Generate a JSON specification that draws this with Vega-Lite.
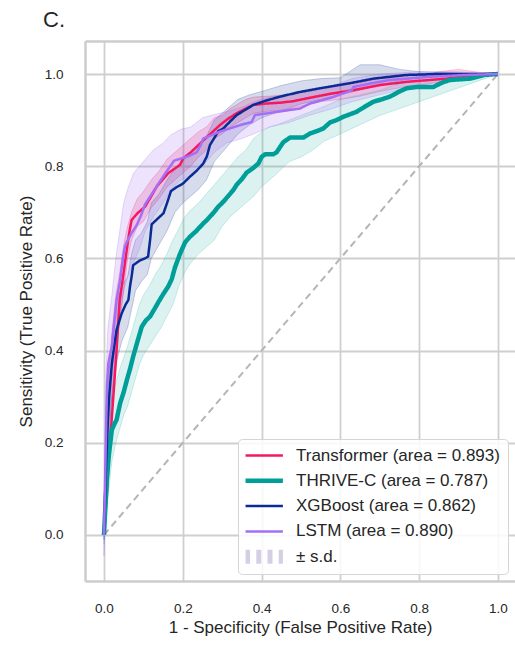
{
"$schema": "https://vega.github.io/schema/vega-lite/v6.json",
"width": 430, "height": 540,
"autosize": {"type": "none"},
"padding": {"left": 85, "top": 41, "right": 0, "bottom": 65},
"background": "white",
"title": {"text": "C.", "anchor": "start", "frame": "group", "dx": -42, "offset": -8, "fontSize": 22, "font": "Liberation Sans", "fontWeight": "normal", "color": "#262626", "baseline": "alphabetic"},
"config": {
  "view": {"stroke": null},
  "font": "Liberation Sans",
  "axis": {"domain": true, "domainColor": "#cccccc", "domainWidth": 2.5, "ticks": false, "grid": true, "gridColor": "#cfcfcf", "gridWidth": 1.8, "labelFont": "Liberation Sans", "labelFontSize": 13.5, "labelColor": "#262626", "titleFont": "Liberation Sans", "titleFontSize": 17, "titleFontWeight": "normal", "titleColor": "#262626"}
},
"resolve": {"axis": {"x": "independent"}},
"datasets": {
"diag": [{"x": 0, "y": 0}, {"x": 1, "y": 1}],
"bands": [
{"model":"T","x":0,"lo":0,"hi":0.02},{"model":"T","x":0.01,"lo":0.17,"hi":0.32},{"model":"T","x":0.02,"lo":0.3,"hi":0.44},{"model":"T","x":0.03,"lo":0.4,"hi":0.52},{"model":"T","x":0.04,"lo":0.46,"hi":0.57},{"model":"T","x":0.05,"lo":0.53,"hi":0.63},{"model":"T","x":0.06,"lo":0.6,"hi":0.67},{"model":"T","x":0.07,"lo":0.64,"hi":0.7},{"model":"T","x":0.085,"lo":0.67,"hi":0.73},{"model":"T","x":0.1,"lo":0.68,"hi":0.745},{"model":"T","x":0.12,"lo":0.71,"hi":0.77},{"model":"T","x":0.14,"lo":0.73,"hi":0.79},{"model":"T","x":0.16,"lo":0.755,"hi":0.815},{"model":"T","x":0.18,"lo":0.77,"hi":0.83},{"model":"T","x":0.2,"lo":0.785,"hi":0.845},{"model":"T","x":0.22,"lo":0.8,"hi":0.86},{"model":"T","x":0.24,"lo":0.82,"hi":0.875},{"model":"T","x":0.26,"lo":0.835,"hi":0.885},{"model":"T","x":0.28,"lo":0.86,"hi":0.905},{"model":"T","x":0.3,"lo":0.87,"hi":0.91},{"model":"T","x":0.32,"lo":0.885,"hi":0.925},{"model":"T","x":0.34,"lo":0.895,"hi":0.935},{"model":"T","x":0.36,"lo":0.905,"hi":0.945},{"model":"T","x":0.38,"lo":0.915,"hi":0.95},{"model":"T","x":0.42,"lo":0.92,"hi":0.952},{"model":"T","x":0.46,"lo":0.922,"hi":0.955},{"model":"T","x":0.5,"lo":0.93,"hi":0.96},{"model":"T","x":0.55,"lo":0.94,"hi":0.97},{"model":"T","x":0.6,"lo":0.945,"hi":0.978},{"model":"T","x":0.65,"lo":0.952,"hi":0.982},{"model":"T","x":0.7,"lo":0.962,"hi":0.99},{"model":"T","x":0.75,"lo":0.97,"hi":0.995},{"model":"T","x":0.8,"lo":0.976,"hi":0.998},{"model":"T","x":0.85,"lo":0.982,"hi":1.005},{"model":"T","x":0.9,"lo":0.988,"hi":1.01},{"model":"T","x":0.95,"lo":0.995,"hi":1.004},{"model":"T","x":1,"lo":1,"hi":1},
{"model":"C","x":0,"lo":-0.02,"hi":0.03},{"model":"C","x":0.01,"lo":0.08,"hi":0.25},{"model":"C","x":0.02,"lo":0.16,"hi":0.3},{"model":"C","x":0.03,"lo":0.2,"hi":0.33},{"model":"C","x":0.04,"lo":0.23,"hi":0.36},{"model":"C","x":0.05,"lo":0.26,"hi":0.385},{"model":"C","x":0.06,"lo":0.28,"hi":0.41},{"model":"C","x":0.07,"lo":0.31,"hi":0.44},{"model":"C","x":0.08,"lo":0.34,"hi":0.47},{"model":"C","x":0.09,"lo":0.37,"hi":0.5},{"model":"C","x":0.1,"lo":0.39,"hi":0.52},{"model":"C","x":0.115,"lo":0.41,"hi":0.54},{"model":"C","x":0.13,"lo":0.43,"hi":0.565},{"model":"C","x":0.145,"lo":0.45,"hi":0.585},{"model":"C","x":0.16,"lo":0.475,"hi":0.61},{"model":"C","x":0.175,"lo":0.5,"hi":0.64},{"model":"C","x":0.19,"lo":0.54,"hi":0.665},{"model":"C","x":0.205,"lo":0.57,"hi":0.69},{"model":"C","x":0.22,"lo":0.59,"hi":0.705},{"model":"C","x":0.24,"lo":0.61,"hi":0.72},{"model":"C","x":0.26,"lo":0.625,"hi":0.74},{"model":"C","x":0.28,"lo":0.64,"hi":0.76},{"model":"C","x":0.3,"lo":0.67,"hi":0.78},{"model":"C","x":0.32,"lo":0.69,"hi":0.8},{"model":"C","x":0.34,"lo":0.705,"hi":0.82},{"model":"C","x":0.36,"lo":0.72,"hi":0.835},{"model":"C","x":0.38,"lo":0.735,"hi":0.86},{"model":"C","x":0.4,"lo":0.755,"hi":0.875},{"model":"C","x":0.42,"lo":0.77,"hi":0.885},{"model":"C","x":0.44,"lo":0.785,"hi":0.89},{"model":"C","x":0.47,"lo":0.81,"hi":0.9},{"model":"C","x":0.5,"lo":0.82,"hi":0.91},{"model":"C","x":0.53,"lo":0.835,"hi":0.92},{"model":"C","x":0.56,"lo":0.855,"hi":0.93},{"model":"C","x":0.6,"lo":0.87,"hi":0.945},{"model":"C","x":0.65,"lo":0.89,"hi":0.955},{"model":"C","x":0.7,"lo":0.91,"hi":0.965},{"model":"C","x":0.75,"lo":0.925,"hi":0.98},{"model":"C","x":0.8,"lo":0.94,"hi":0.99},{"model":"C","x":0.85,"lo":0.955,"hi":0.995},{"model":"C","x":0.9,"lo":0.97,"hi":1.0},{"model":"C","x":0.95,"lo":0.985,"hi":1.0},{"model":"C","x":1,"lo":1,"hi":1},
{"model":"X","x":0,"lo":-0.01,"hi":0.02},{"model":"X","x":0.005,"lo":0.08,"hi":0.22},{"model":"X","x":0.01,"lo":0.18,"hi":0.32},{"model":"X","x":0.02,"lo":0.3,"hi":0.43},{"model":"X","x":0.03,"lo":0.37,"hi":0.5},{"model":"X","x":0.045,"lo":0.42,"hi":0.54},{"model":"X","x":0.06,"lo":0.45,"hi":0.56},{"model":"X","x":0.07,"lo":0.49,"hi":0.61},{"model":"X","x":0.08,"lo":0.53,"hi":0.64},{"model":"X","x":0.095,"lo":0.55,"hi":0.655},{"model":"X","x":0.11,"lo":0.565,"hi":0.68},{"model":"X","x":0.12,"lo":0.6,"hi":0.72},{"model":"X","x":0.14,"lo":0.63,"hi":0.74},{"model":"X","x":0.16,"lo":0.66,"hi":0.77},{"model":"X","x":0.18,"lo":0.7,"hi":0.795},{"model":"X","x":0.2,"lo":0.72,"hi":0.81},{"model":"X","x":0.22,"lo":0.735,"hi":0.83},{"model":"X","x":0.24,"lo":0.75,"hi":0.845},{"model":"X","x":0.26,"lo":0.77,"hi":0.865},{"model":"X","x":0.28,"lo":0.81,"hi":0.9},{"model":"X","x":0.3,"lo":0.83,"hi":0.915},{"model":"X","x":0.32,"lo":0.85,"hi":0.93},{"model":"X","x":0.34,"lo":0.87,"hi":0.945},{"model":"X","x":0.37,"lo":0.89,"hi":0.955},{"model":"X","x":0.4,"lo":0.905,"hi":0.962},{"model":"X","x":0.45,"lo":0.92,"hi":0.975},{"model":"X","x":0.5,"lo":0.935,"hi":0.985},{"model":"X","x":0.55,"lo":0.945,"hi":0.99},{"model":"X","x":0.6,"lo":0.955,"hi":0.992},{"model":"X","x":0.65,"lo":0.965,"hi":1.02},{"model":"X","x":0.7,"lo":0.975,"hi":1.02},{"model":"X","x":0.75,"lo":0.985,"hi":1.01},{"model":"X","x":0.8,"lo":0.992,"hi":1.005},{"model":"X","x":0.9,"lo":0.998,"hi":1.002},{"model":"X","x":1,"lo":1,"hi":1},
{"model":"L","x":0,"lo":-0.045,"hi":0.05},{"model":"L","x":0.005,"lo":0.1,"hi":0.35},{"model":"L","x":0.01,"lo":0.22,"hi":0.45},{"model":"L","x":0.02,"lo":0.33,"hi":0.52},{"model":"L","x":0.03,"lo":0.42,"hi":0.6},{"model":"L","x":0.04,"lo":0.48,"hi":0.66},{"model":"L","x":0.05,"lo":0.53,"hi":0.72},{"model":"L","x":0.06,"lo":0.56,"hi":0.75},{"model":"L","x":0.075,"lo":0.59,"hi":0.785},{"model":"L","x":0.09,"lo":0.62,"hi":0.8},{"model":"L","x":0.105,"lo":0.66,"hi":0.815},{"model":"L","x":0.125,"lo":0.69,"hi":0.835},{"model":"L","x":0.15,"lo":0.72,"hi":0.85},{"model":"L","x":0.17,"lo":0.75,"hi":0.868},{"model":"L","x":0.195,"lo":0.77,"hi":0.88},{"model":"L","x":0.22,"lo":0.78,"hi":0.885},{"model":"L","x":0.25,"lo":0.8,"hi":0.905},{"model":"L","x":0.28,"lo":0.83,"hi":0.912},{"model":"L","x":0.31,"lo":0.85,"hi":0.918},{"model":"L","x":0.35,"lo":0.86,"hi":0.928},{"model":"L","x":0.38,"lo":0.87,"hi":0.94},{"model":"L","x":0.42,"lo":0.885,"hi":0.95},{"model":"L","x":0.47,"lo":0.895,"hi":0.955},{"model":"L","x":0.52,"lo":0.91,"hi":0.962},{"model":"L","x":0.58,"lo":0.925,"hi":0.975},{"model":"L","x":0.63,"lo":0.94,"hi":0.99},{"model":"L","x":0.7,"lo":0.955,"hi":1.0},{"model":"L","x":0.8,"lo":0.975,"hi":1.005},{"model":"L","x":0.9,"lo":0.99,"hi":1.005},{"model":"L","x":1,"lo":1,"hi":1}
],
"lines": [
{"model":"T","x":0,"y":0},{"model":"T","x":0.004,"y":0.05},{"model":"T","x":0.008,"y":0.1},{"model":"T","x":0.012,"y":0.16},{"model":"T","x":0.017,"y":0.22},{"model":"T","x":0.022,"y":0.28},{"model":"T","x":0.027,"y":0.34},{"model":"T","x":0.032,"y":0.4},{"model":"T","x":0.036,"y":0.46},{"model":"T","x":0.04,"y":0.51},{"model":"T","x":0.045,"y":0.54},{"model":"T","x":0.05,"y":0.57},{"model":"T","x":0.058,"y":0.62},{"model":"T","x":0.064,"y":0.655},{"model":"T","x":0.07,"y":0.683},{"model":"T","x":0.085,"y":0.698},{"model":"T","x":0.104,"y":0.712},{"model":"T","x":0.12,"y":0.735},{"model":"T","x":0.134,"y":0.756},{"model":"T","x":0.15,"y":0.772},{"model":"T","x":0.163,"y":0.785},{"model":"T","x":0.18,"y":0.795},{"model":"T","x":0.193,"y":0.803},{"model":"T","x":0.201,"y":0.817},{"model":"T","x":0.22,"y":0.83},{"model":"T","x":0.235,"y":0.842},{"model":"T","x":0.252,"y":0.856},{"model":"T","x":0.27,"y":0.87},{"model":"T","x":0.294,"y":0.889},{"model":"T","x":0.315,"y":0.903},{"model":"T","x":0.337,"y":0.915},{"model":"T","x":0.36,"y":0.925},{"model":"T","x":0.379,"y":0.933},{"model":"T","x":0.413,"y":0.936},{"model":"T","x":0.45,"y":0.938},{"model":"T","x":0.48,"y":0.941},{"model":"T","x":0.52,"y":0.948},{"model":"T","x":0.574,"y":0.957},{"model":"T","x":0.633,"y":0.965},{"model":"T","x":0.7,"y":0.976},{"model":"T","x":0.768,"y":0.983},{"model":"T","x":0.87,"y":0.99},{"model":"T","x":0.946,"y":0.998},{"model":"T","x":1,"y":1},
{"model":"C","x":0,"y":0},{"model":"C","x":0.004,"y":0.07},{"model":"C","x":0.008,"y":0.13},{"model":"C","x":0.013,"y":0.178},{"model":"C","x":0.02,"y":0.228},{"model":"C","x":0.026,"y":0.24},{"model":"C","x":0.032,"y":0.25},{"model":"C","x":0.041,"y":0.286},{"model":"C","x":0.05,"y":0.31},{"model":"C","x":0.058,"y":0.336},{"model":"C","x":0.066,"y":0.36},{"model":"C","x":0.074,"y":0.387},{"model":"C","x":0.085,"y":0.42},{"model":"C","x":0.096,"y":0.452},{"model":"C","x":0.106,"y":0.465},{"model":"C","x":0.117,"y":0.474},{"model":"C","x":0.128,"y":0.49},{"model":"C","x":0.138,"y":0.505},{"model":"C","x":0.15,"y":0.522},{"model":"C","x":0.163,"y":0.539},{"model":"C","x":0.172,"y":0.555},{"model":"C","x":0.18,"y":0.58},{"model":"C","x":0.193,"y":0.61},{"model":"C","x":0.206,"y":0.635},{"model":"C","x":0.218,"y":0.647},{"model":"C","x":0.235,"y":0.66},{"model":"C","x":0.252,"y":0.676},{"model":"C","x":0.261,"y":0.683},{"model":"C","x":0.277,"y":0.698},{"model":"C","x":0.29,"y":0.712},{"model":"C","x":0.303,"y":0.723},{"model":"C","x":0.315,"y":0.735},{"model":"C","x":0.328,"y":0.748},{"model":"C","x":0.337,"y":0.76},{"model":"C","x":0.35,"y":0.772},{"model":"C","x":0.362,"y":0.786},{"model":"C","x":0.38,"y":0.797},{"model":"C","x":0.392,"y":0.806},{"model":"C","x":0.4,"y":0.82},{"model":"C","x":0.409,"y":0.826},{"model":"C","x":0.43,"y":0.826},{"model":"C","x":0.438,"y":0.83},{"model":"C","x":0.455,"y":0.852},{"model":"C","x":0.472,"y":0.862},{"model":"C","x":0.506,"y":0.862},{"model":"C","x":0.523,"y":0.871},{"model":"C","x":0.54,"y":0.876},{"model":"C","x":0.557,"y":0.882},{"model":"C","x":0.574,"y":0.895},{"model":"C","x":0.59,"y":0.9},{"model":"C","x":0.607,"y":0.907},{"model":"C","x":0.641,"y":0.918},{"model":"C","x":0.66,"y":0.928},{"model":"C","x":0.684,"y":0.94},{"model":"C","x":0.705,"y":0.945},{"model":"C","x":0.726,"y":0.951},{"model":"C","x":0.75,"y":0.962},{"model":"C","x":0.768,"y":0.969},{"model":"C","x":0.794,"y":0.972},{"model":"C","x":0.836,"y":0.972},{"model":"C","x":0.86,"y":0.982},{"model":"C","x":0.878,"y":0.987},{"model":"C","x":0.929,"y":0.99},{"model":"C","x":0.965,"y":0.998},{"model":"C","x":1,"y":1},
{"model":"X","x":0,"y":0},{"model":"X","x":0.002,"y":0.06},{"model":"X","x":0.004,"y":0.12},{"model":"X","x":0.007,"y":0.19},{"model":"X","x":0.01,"y":0.25},{"model":"X","x":0.013,"y":0.3},{"model":"X","x":0.017,"y":0.34},{"model":"X","x":0.02,"y":0.372},{"model":"X","x":0.026,"y":0.41},{"model":"X","x":0.032,"y":0.445},{"model":"X","x":0.045,"y":0.481},{"model":"X","x":0.055,"y":0.5},{"model":"X","x":0.062,"y":0.51},{"model":"X","x":0.066,"y":0.539},{"model":"X","x":0.07,"y":0.56},{"model":"X","x":0.074,"y":0.585},{"model":"X","x":0.09,"y":0.595},{"model":"X","x":0.104,"y":0.6},{"model":"X","x":0.112,"y":0.604},{"model":"X","x":0.117,"y":0.64},{"model":"X","x":0.121,"y":0.674},{"model":"X","x":0.136,"y":0.686},{"model":"X","x":0.151,"y":0.698},{"model":"X","x":0.16,"y":0.72},{"model":"X","x":0.17,"y":0.746},{"model":"X","x":0.185,"y":0.755},{"model":"X","x":0.2,"y":0.762},{"model":"X","x":0.218,"y":0.777},{"model":"X","x":0.235,"y":0.79},{"model":"X","x":0.252,"y":0.806},{"model":"X","x":0.261,"y":0.821},{"model":"X","x":0.269,"y":0.846},{"model":"X","x":0.282,"y":0.864},{"model":"X","x":0.29,"y":0.876},{"model":"X","x":0.303,"y":0.882},{"model":"X","x":0.32,"y":0.897},{"model":"X","x":0.337,"y":0.911},{"model":"X","x":0.36,"y":0.923},{"model":"X","x":0.379,"y":0.933},{"model":"X","x":0.41,"y":0.942},{"model":"X","x":0.447,"y":0.951},{"model":"X","x":0.497,"y":0.961},{"model":"X","x":0.548,"y":0.969},{"model":"X","x":0.624,"y":0.98},{"model":"X","x":0.684,"y":0.99},{"model":"X","x":0.768,"y":0.998},{"model":"X","x":0.85,"y":1.0},{"model":"X","x":1,"y":1},
{"model":"L","x":0,"y":0},{"model":"L","x":0.002,"y":0.08},{"model":"L","x":0.004,"y":0.17},{"model":"L","x":0.006,"y":0.26},{"model":"L","x":0.008,"y":0.33},{"model":"L","x":0.011,"y":0.372},{"model":"L","x":0.015,"y":0.39},{"model":"L","x":0.02,"y":0.408},{"model":"L","x":0.026,"y":0.46},{"model":"L","x":0.032,"y":0.51},{"model":"L","x":0.041,"y":0.553},{"model":"L","x":0.048,"y":0.6},{"model":"L","x":0.053,"y":0.625},{"model":"L","x":0.058,"y":0.636},{"model":"L","x":0.07,"y":0.655},{"model":"L","x":0.083,"y":0.672},{"model":"L","x":0.095,"y":0.695},{"model":"L","x":0.104,"y":0.717},{"model":"L","x":0.12,"y":0.738},{"model":"L","x":0.138,"y":0.762},{"model":"L","x":0.16,"y":0.79},{"model":"L","x":0.178,"y":0.812},{"model":"L","x":0.197,"y":0.817},{"model":"L","x":0.215,"y":0.822},{"model":"L","x":0.235,"y":0.83},{"model":"L","x":0.245,"y":0.845},{"model":"L","x":0.252,"y":0.86},{"model":"L","x":0.294,"y":0.875},{"model":"L","x":0.345,"y":0.889},{"model":"L","x":0.375,"y":0.896},{"model":"L","x":0.383,"y":0.911},{"model":"L","x":0.44,"y":0.918},{"model":"L","x":0.497,"y":0.925},{"model":"L","x":0.523,"y":0.936},{"model":"L","x":0.582,"y":0.95},{"model":"L","x":0.629,"y":0.965},{"model":"L","x":0.633,"y":0.972},{"model":"L","x":0.68,"y":0.98},{"model":"L","x":0.726,"y":0.987},{"model":"L","x":0.827,"y":0.994},{"model":"L","x":0.92,"y":0.998},{"model":"L","x":1,"y":1}
]
},
"layer": [
{
  "data": {"name": "bands"},
  "mark": {"type": "area", "fillOpacity": 0.18, "strokeOpacity": 0.25, "strokeWidth": 1, "clip": true},
  "encoding": {
    "x": {"field": "x", "type": "quantitative", "scale": {"domain": [-0.0482, 1.0432], "nice": false, "zero": false}, "axis": {"values": [0, 0.2, 0.4, 0.6, 0.8, 1], "format": ".1f", "labelPadding": 20.5, "titlePadding": 4, "labelFlush": false, "title": "1 - Specificity (False Positive Rate)"}},
    "y": {"field": "lo", "type": "quantitative", "scale": {"domain": [-0.0998, 1.0716], "nice": false, "zero": false}, "axis": {"values": [0, 0.2, 0.4, 0.6, 0.8, 1], "format": ".1f", "labelPadding": 22, "titlePadding": 8.5, "labelFlush": false, "title": "Sensitivity (True Positive Rate)"}},
    "y2": {"field": "hi"},
    "fill": {"field": "model", "type": "nominal", "scale": {"domain": ["T", "C", "X", "L"], "range": ["#f5185f", "#3cb8b2", "#1f3f9a", "#a066f0"]}, "legend": null},
    "stroke": {"field": "model", "type": "nominal", "scale": {"domain": ["T", "C", "X", "L"], "range": ["#f5185f", "#3cb8b2", "#1f3f9a", "#a066f0"]}, "legend": null}
  }
},
{
  "data": {"name": "diag"},
  "mark": {"type": "line", "strokeDash": [7, 4.5], "color": "#b5b5b5", "strokeWidth": 2},
  "encoding": {
    "x": {"field": "x", "type": "quantitative", "axis": {"orient": "top", "labels": false, "ticks": false, "grid": false, "title": null, "domain": true}},
    "y": {"field": "y", "type": "quantitative"}
  }
},
{
  "data": {"name": "lines"},
  "mark": {"type": "line", "strokeJoin": "round", "strokeCap": "butt", "clip": true},
  "encoding": {
    "x": {"field": "x", "type": "quantitative", "axis": null},
    "y": {"field": "y", "type": "quantitative"},
    "strokeWidth": {"field": "model", "type": "nominal", "sort": null,
      "scale": {"type": "ordinal", "domain": ["T", "C", "X", "L", "SD"], "range": [2.5, 4.5, 2.5, 2.5, 14]},
      "legend": {"title": null, "orient": "bottom-right"}},
    "strokeDash": {"field": "model", "type": "nominal", "sort": null,
      "scale": {"type": "ordinal", "domain": ["T", "C", "X", "L", "SD"], "range": [[1, 0], [1, 0], [1, 0], [1, 0], [5, 6.2]]},
      "legend": {"title": null, "orient": "bottom-right"}},
    "color": {"field": "model", "type": "nominal", "sort": null,
      "scale": {"domain": ["T", "C", "X", "L", "SD"], "range": ["#f5185f", "#009e98", "#0a2b94", "#a46ff5", "#d5cfe4"]},
      "legend": {
        "title": null, "orient": "bottom-right", "offset": 7.5, "padding": 7.5,
        "fillColor": "rgba(255,255,255,0.85)", "strokeColor": "#d5d5d5", "cornerRadius": 4,
        "labelFont": "Liberation Sans", "labelFontSize": 17, "labelColor": "#262626", "labelLimit": 400,
        "symbolType": "M-6.3,0H6.3", "symbolSize": 36, "symbolOffset": 8.5, "labelOffset": 22,
        "clipHeight": 18, "rowPadding": 7.3,
        "labelExpr": "{'T': 'Transformer (area = 0.893)', 'C': 'THRIVE-C (area = 0.787)', 'X': 'XGBoost (area = 0.862)', 'L': 'LSTM (area = 0.890)', 'SD': '± s.d.'}[datum.value]"
      }
    }
  }
}
]
}
